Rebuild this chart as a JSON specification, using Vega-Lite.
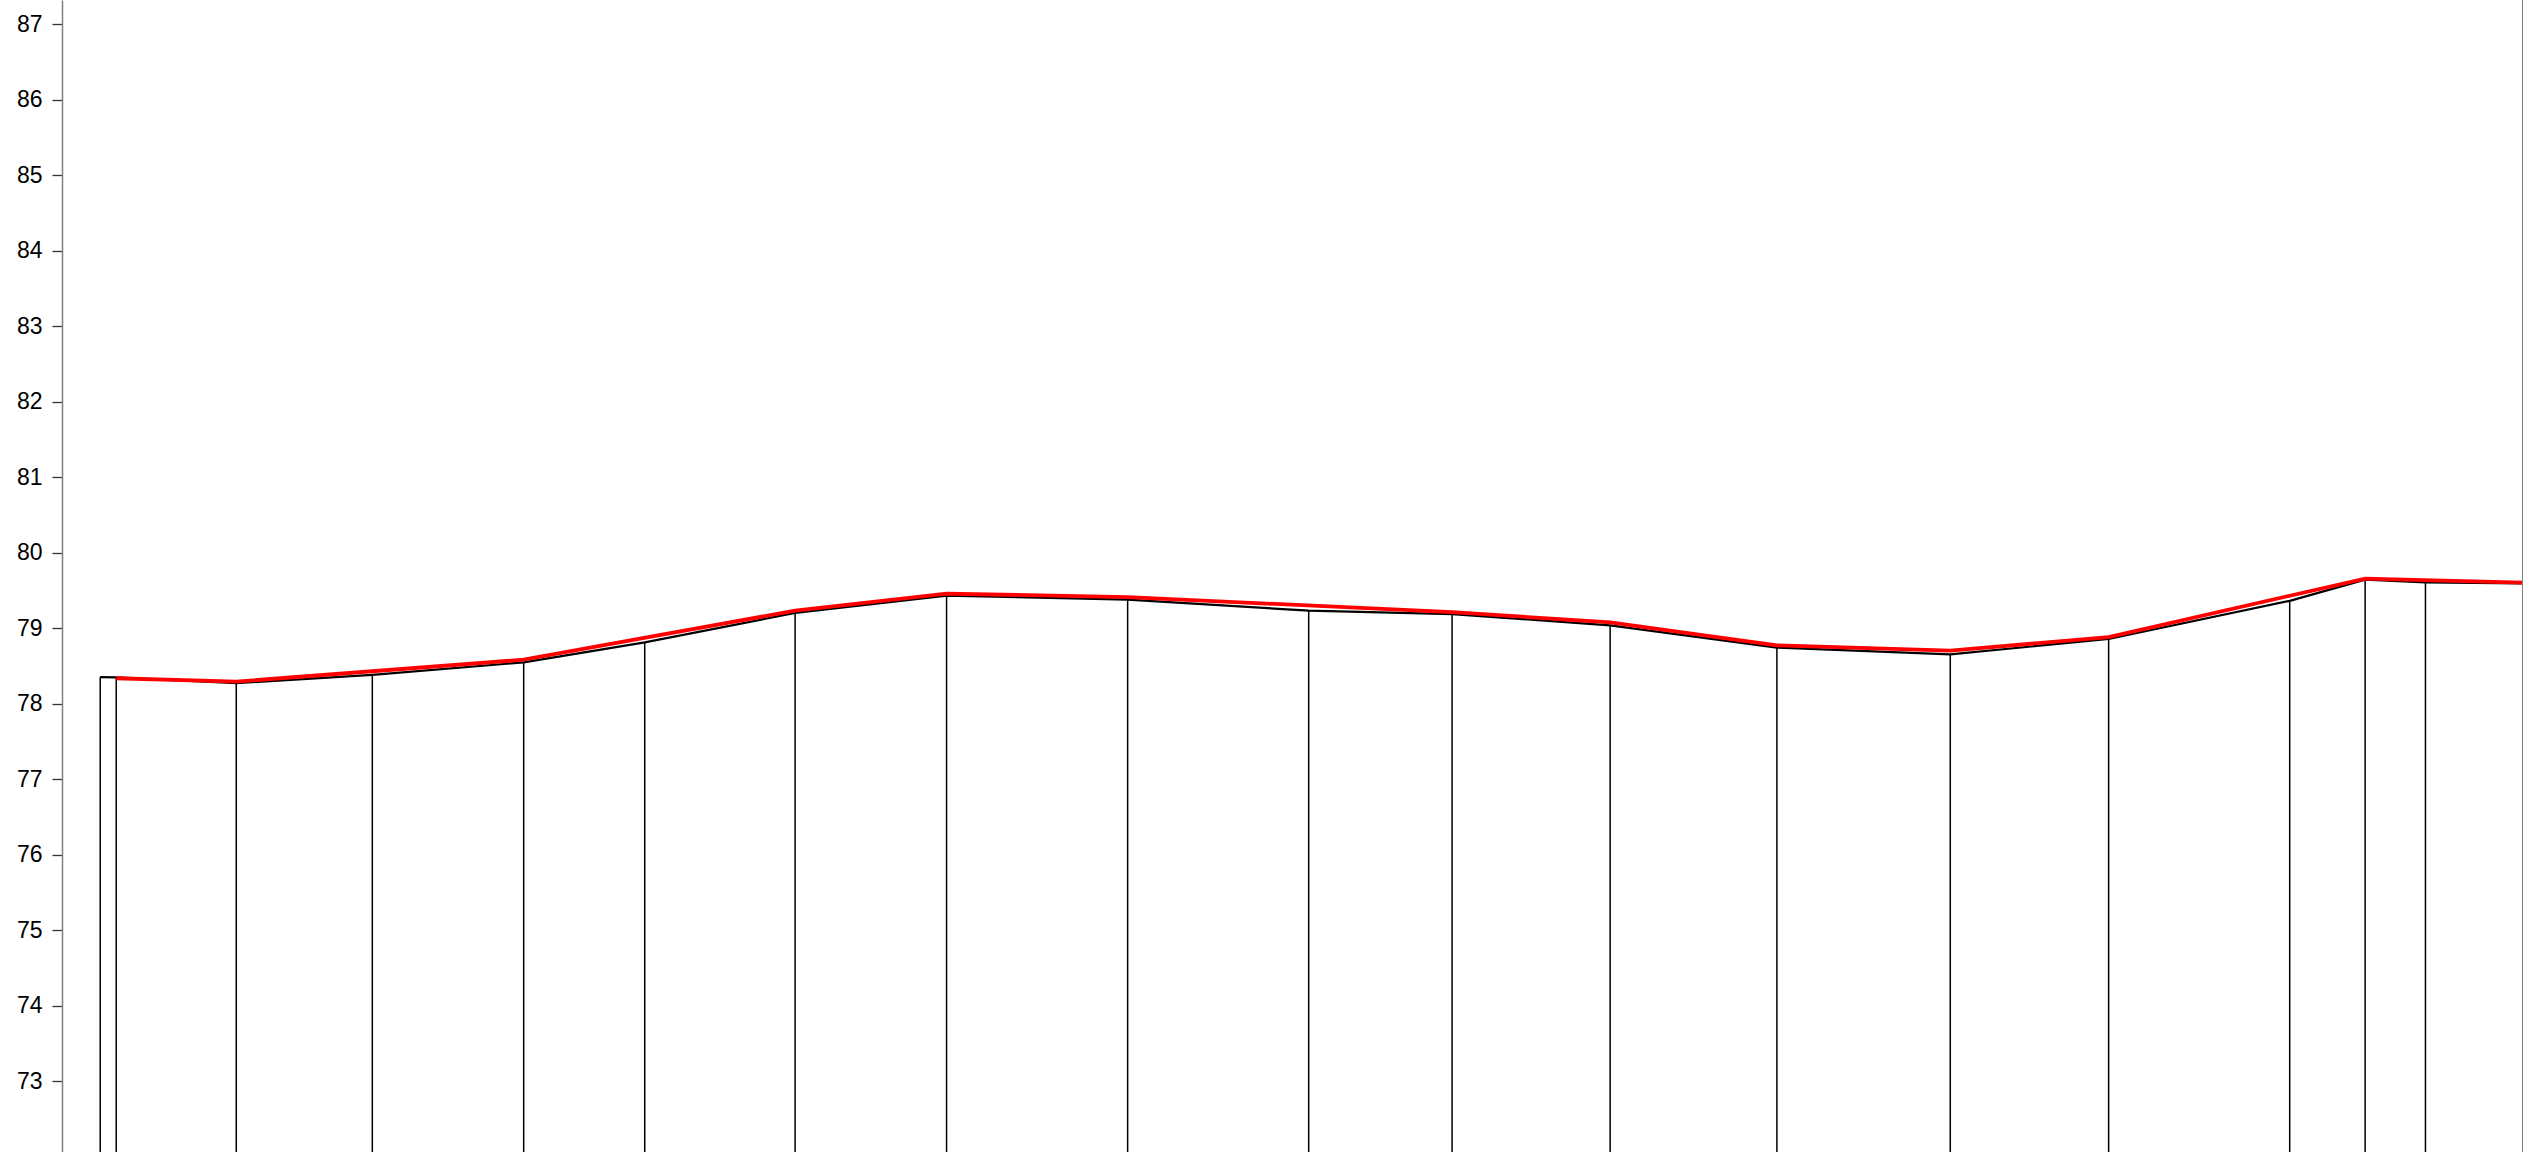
{
  "$schema": "https://vega.github.io/schema/vega-lite/v6.json",
  "autosize": "none",
  "padding": {"left": 62, "top": 0, "right": 0, "bottom": 0},
  "width": 2461,
  "height": 1152,
  "background": "white",
  "config": {"view": {"stroke": null}, "font": "Liberation Sans"},
  "datasets": {
    "black": [
      {"t": 38.2, "v": 78.35},
      {"t": 54.2, "v": 78.345},
      {"t": 174.2, "v": 78.27},
      {"t": 310.2, "v": 78.38},
      {"t": 461.5, "v": 78.545},
      {"t": 582.5, "v": 78.81},
      {"t": 732.8, "v": 79.2},
      {"t": 884.2, "v": 79.43},
      {"t": 1065.2, "v": 79.375},
      {"t": 1246.2, "v": 79.23},
      {"t": 1389.5, "v": 79.185},
      {"t": 1547.5, "v": 79.035},
      {"t": 1714.2, "v": 78.74},
      {"t": 1887.5, "v": 78.65},
      {"t": 2045.8, "v": 78.855},
      {"t": 2226.8, "v": 79.36},
      {"t": 2302.2, "v": 79.64},
      {"t": 2362.5, "v": 79.605},
      {"t": 2460, "v": 79.59}
    ],
    "drops": [
      {"t": 38.2, "v": 78.35},
      {"t": 54.2, "v": 78.345},
      {"t": 174.2, "v": 78.27},
      {"t": 310.2, "v": 78.38},
      {"t": 461.5, "v": 78.545},
      {"t": 582.5, "v": 78.81},
      {"t": 732.8, "v": 79.2},
      {"t": 884.2, "v": 79.43},
      {"t": 1065.2, "v": 79.375},
      {"t": 1246.2, "v": 79.23},
      {"t": 1389.5, "v": 79.185},
      {"t": 1547.5, "v": 79.035},
      {"t": 1714.2, "v": 78.74},
      {"t": 1887.5, "v": 78.65},
      {"t": 2045.8, "v": 78.855},
      {"t": 2226.8, "v": 79.36},
      {"t": 2302.2, "v": 79.64},
      {"t": 2362.5, "v": 79.605}
    ],
    "red": [
      {"t": 54.2, "v": 78.335},
      {"t": 174.2, "v": 78.29},
      {"t": 461.5, "v": 78.58},
      {"t": 732.8, "v": 79.23},
      {"t": 884.2, "v": 79.455},
      {"t": 1065.2, "v": 79.41},
      {"t": 1389.5, "v": 79.21},
      {"t": 1547.5, "v": 79.075},
      {"t": 1714.2, "v": 78.77},
      {"t": 1887.5, "v": 78.7},
      {"t": 2045.8, "v": 78.88},
      {"t": 2302.2, "v": 79.655},
      {"t": 2460, "v": 79.6}
    ]
  },
  "layer": [
    {
      "data": {"name": "drops"},
      "mark": {"type": "rule", "color": "#000000", "strokeWidth": 1.5, "clip": true},
      "encoding": {
        "x": {"field": "t", "type": "quantitative", "scale": {"domain": [0, 2460], "nice": false, "zero": false}, "axis": null},
        "y": {"field": "v", "type": "quantitative",
          "scale": {"domain": [72.06, 87.318], "nice": false, "zero": false},
          "axis": {
            "values": [73, 74, 75, 76, 77, 78, 79, 80, 81, 82, 83, 84, 85, 86, 87],
            "format": "d",
            "grid": false,
            "title": null,
            "domainColor": "#808080",
            "domainWidth": 1.5,
            "tickColor": "#333333",
            "tickWidth": 1.3,
            "tickSize": 10,
            "labelFontSize": 23,
            "labelColor": "#000000",
            "labelFont": "Liberation Sans",
            "labelPadding": 10
          }
        },
        "y2": {"datum": 72.06}
      }
    },
    {
      "data": {"name": "black"},
      "mark": {"type": "line", "color": "#000000", "strokeWidth": 2.2, "clip": true},
      "encoding": {
        "x": {"field": "t", "type": "quantitative"},
        "y": {"field": "v", "type": "quantitative"}
      }
    },
    {
      "data": {"name": "red"},
      "mark": {"type": "line", "color": "#ff0000", "strokeWidth": 3.8, "clip": true},
      "encoding": {
        "x": {"field": "t", "type": "quantitative"},
        "y": {"field": "v", "type": "quantitative"}
      }
    },
    {
      "data": {"values": [{}]},
      "mark": {"type": "rule", "color": "#808080", "strokeWidth": 2},
      "encoding": {"x": {"datum": 2460}}
    }
  ]
}
